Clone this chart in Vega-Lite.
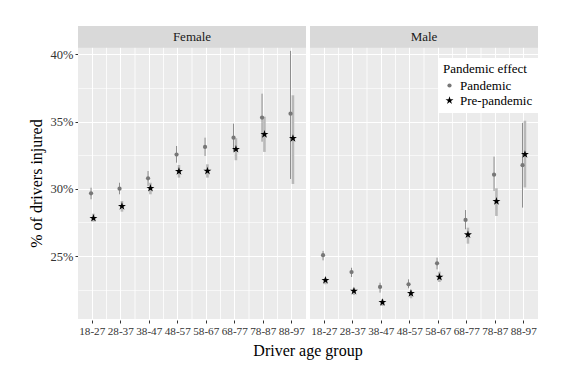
{
  "$schema": "https://vega.github.io/schema/vega-lite/v6.json",
  "padding": {"left": 28, "top": 25, "right": 5, "bottom": 5},
  "background": "white",
  "data": {"values": [
    {"gender": "Female", "age": "18-27", "effect": "Pandemic", "value": 29.66, "lower": 29.22, "upper": 30.08},
    {"gender": "Female", "age": "28-37", "effect": "Pandemic", "value": 30.01, "lower": 29.59, "upper": 30.45},
    {"gender": "Female", "age": "38-47", "effect": "Pandemic", "value": 30.78, "lower": 30.21, "upper": 31.32},
    {"gender": "Female", "age": "48-57", "effect": "Pandemic", "value": 32.54, "lower": 31.94, "upper": 33.18},
    {"gender": "Female", "age": "58-67", "effect": "Pandemic", "value": 33.11, "lower": 32.44, "upper": 33.80},
    {"gender": "Female", "age": "68-77", "effect": "Pandemic", "value": 33.80, "lower": 32.76, "upper": 34.84},
    {"gender": "Female", "age": "78-87", "effect": "Pandemic", "value": 35.29, "lower": 33.50, "upper": 37.07},
    {"gender": "Female", "age": "88-97", "effect": "Pandemic", "value": 35.58, "lower": 30.73, "upper": 40.25},
    {"gender": "Female", "age": "18-27", "effect": "Pre-pandemic", "value": 27.81, "lower": 27.55, "upper": 28.15},
    {"gender": "Female", "age": "28-37", "effect": "Pre-pandemic", "value": 28.70, "lower": 28.30, "upper": 29.09},
    {"gender": "Female", "age": "38-47", "effect": "Pre-pandemic", "value": 30.04, "lower": 29.59, "upper": 30.45},
    {"gender": "Female", "age": "48-57", "effect": "Pre-pandemic", "value": 31.30, "lower": 30.83, "upper": 31.77},
    {"gender": "Female", "age": "58-67", "effect": "Pre-pandemic", "value": 31.32, "lower": 30.83, "upper": 31.82},
    {"gender": "Female", "age": "68-77", "effect": "Pre-pandemic", "value": 32.94, "lower": 32.12, "upper": 33.76},
    {"gender": "Female", "age": "78-87", "effect": "Pre-pandemic", "value": 34.05, "lower": 32.74, "upper": 35.36},
    {"gender": "Female", "age": "88-97", "effect": "Pre-pandemic", "value": 33.75, "lower": 30.36, "upper": 36.95},
    {"gender": "Male", "age": "18-27", "effect": "Pandemic", "value": 25.06, "lower": 24.68, "upper": 25.38},
    {"gender": "Male", "age": "28-37", "effect": "Pandemic", "value": 23.81, "lower": 23.44, "upper": 24.13},
    {"gender": "Male", "age": "38-47", "effect": "Pandemic", "value": 22.70, "lower": 22.28, "upper": 23.02},
    {"gender": "Male", "age": "48-57", "effect": "Pandemic", "value": 22.90, "lower": 22.60, "upper": 23.27},
    {"gender": "Male", "age": "58-67", "effect": "Pandemic", "value": 24.46, "lower": 24.01, "upper": 24.88},
    {"gender": "Male", "age": "68-77", "effect": "Pandemic", "value": 27.68, "lower": 26.99, "upper": 28.42},
    {"gender": "Male", "age": "78-87", "effect": "Pandemic", "value": 31.05, "lower": 29.84, "upper": 32.39},
    {"gender": "Male", "age": "88-97", "effect": "Pandemic", "value": 31.75, "lower": 28.60, "upper": 34.90},
    {"gender": "Male", "age": "18-27", "effect": "Pre-pandemic", "value": 23.20, "lower": 22.90, "upper": 23.39},
    {"gender": "Male", "age": "28-37", "effect": "Pre-pandemic", "value": 22.40, "lower": 22.10, "upper": 22.60},
    {"gender": "Male", "age": "38-47", "effect": "Pre-pandemic", "value": 21.56, "lower": 21.29, "upper": 21.78},
    {"gender": "Male", "age": "48-57", "effect": "Pre-pandemic", "value": 22.23, "lower": 21.86, "upper": 22.45},
    {"gender": "Male", "age": "58-67", "effect": "Pre-pandemic", "value": 23.44, "lower": 23.07, "upper": 23.84},
    {"gender": "Male", "age": "68-77", "effect": "Pre-pandemic", "value": 26.59, "lower": 25.92, "upper": 27.11},
    {"gender": "Male", "age": "78-87", "effect": "Pre-pandemic", "value": 29.07, "lower": 27.98, "upper": 30.04},
    {"gender": "Male", "age": "88-97", "effect": "Pre-pandemic", "value": 32.56, "lower": 30.10, "upper": 35.06}
  ]},
  "facet": {
    "column": {
      "field": "gender", "type": "nominal", "title": "Driver age group",
      "header": {"labels": false, "titleOrient": "bottom", "titleFont": "Liberation Serif", "titleFontSize": 16, "titleFontWeight": "normal", "titleColor": "#000000", "titlePadding": -4}
    }
  },
  "spacing": 4,
  "spec": {
    "width": 228,
    "height": 293,
    "layer": [
      {
        "transform": [{"filter": "datum.age != '18-27' && datum.effect == 'Pandemic'"}],
        "mark": {"type": "rule", "color": "white", "strokeWidth": 0.8},
        "encoding": {
          "x": {"field": "age", "type": "nominal", "bandPosition": 0,
                "scale": {"type": "band", "paddingInner": 0, "paddingOuter": 0},
                "axis": {"title": null, "domain": false, "labelAngle": 0, "labelFont": "Liberation Serif", "labelFontSize": 11.2, "labelColor": "#333333", "tickColor": "#333333", "tickSize": 3, "labelPadding": 2, "grid": true, "gridColor": "white", "gridWidth": 1}}
        }
      },
      {
        "transform": [{"filter": "datum.age == '18-27' && datum.effect == 'Pandemic'"}],
        "mark": {"type": "rect", "color": "#d9d9d9"},
        "encoding": {
          "y": {"datum": 40.49},
          "y2": {"datum": 42.1}
        }
      },
      {
        "transform": [{"filter": "datum.age == '18-27' && datum.effect == 'Pandemic'"}],
        "mark": {"type": "text", "font": "Liberation Serif", "fontSize": 13, "color": "#1a1a1a", "baseline": "middle", "align": "center"},
        "encoding": {
          "y": {"datum": 41.3},
          "text": {"field": "gender"}
        }
      },
      {
        "transform": [{"filter": "datum.effect == 'Pre-pandemic'"}],
        "mark": {"type": "rule", "color": "#b8b8b8", "strokeWidth": 2.6},
        "encoding": {
          "x": {"field": "age", "type": "nominal",
                "scale": {"type": "band", "paddingInner": 0, "paddingOuter": 0},
                "axis": {"title": null, "domain": false, "labelAngle": 0, "labelFont": "Liberation Serif", "labelFontSize": 11.2, "labelColor": "#333333", "tickColor": "#333333", "tickSize": 3, "labelPadding": 2, "grid": true, "gridColor": "white", "gridWidth": 1}},
          "xOffset": {"field": "effect", "type": "nominal", "scale": {"domain": ["Pandemic", "Pre-pandemic"], "paddingInner": 0, "paddingOuter": 0, "range": [11.85, 16.65]}},
          "y": {"field": "lower", "type": "quantitative",
                "scale": {"domain": [20.32, 42.1], "nice": false, "zero": false},
                "axis": {"title": "% of drivers injured", "titleFont": "Liberation Serif", "titleFontSize": 16, "titleFontWeight": "normal", "titleColor": "#000000", "titlePadding": 6, "titleY": 157,
                         "domain": false, "values": [22.5, 25, 27.5, 30, 32.5, 35, 37.5, 40],
                         "labelExpr": "datum.value % 5 == 0 ? datum.value + '%' : ''",
                         "labelFont": "Liberation Serif", "labelFontSize": 12.5, "labelColor": "#333333", "labelPadding": 2,
                         "tickColor": "#333333", "tickSize": 3,
                         "tickOpacity": {"condition": {"test": "datum.value % 5 != 0", "value": 0}, "value": 1},
                         "grid": true, "gridColor": "white",
                         "gridWidth": {"condition": {"test": "datum.value % 5 != 0", "value": 0.6}, "value": 1}}},
          "y2": {"field": "upper"}
        }
      },
      {
        "transform": [{"filter": "datum.effect == 'Pandemic'"}],
        "mark": {"type": "rule", "color": "#8a8a8a", "strokeWidth": 1},
        "encoding": {
          "x": {"field": "age", "type": "nominal"},
          "xOffset": {"field": "effect", "type": "nominal"},
          "y": {"field": "lower", "type": "quantitative"},
          "y2": {"field": "upper"}
        }
      },
      {
        "mark": {"type": "point", "filled": true, "opacity": 1},
        "encoding": {
          "x": {"field": "age", "type": "nominal"},
          "xOffset": {"field": "effect", "type": "nominal"},
          "y": {"field": "value", "type": "quantitative"},
          "color": {"field": "effect", "type": "nominal", "scale": {"domain": ["Pandemic", "Pre-pandemic"], "range": ["#777777", "#000000"]},
                    "legend": {"title": "Pandemic effect", "orient": "none", "legendX": 360, "legendY": 32, "zindex": 2, "fillColor": "white", "padding": 5,
                               "titleFont": "Liberation Serif", "titleFontSize": 13, "titleFontWeight": "normal", "titleColor": "#000000", "titlePadding": 3,
                               "labelFont": "Liberation Serif", "labelFontSize": 13, "labelColor": "#000000", "rowPadding": 1}},
          "shape": {"field": "effect", "type": "nominal", "scale": {"domain": ["Pandemic", "Pre-pandemic"], "range": ["circle", "M0,-1L0.225,-0.309L0.951,-0.309L0.363,0.118L0.588,0.809L0,0.382L-0.588,0.809L-0.363,0.118L-0.951,-0.309L-0.225,-0.309Z"]}},
          "size": {"field": "effect", "type": "ordinal", "scale": {"domain": ["Pandemic", "Pre-pandemic"], "range": [18, 70]}}
        }
      }
    ]
  },
  "config": {
    "view": {"fill": "#ebebeb", "stroke": null},
    "font": "Liberation Serif"
  }
}
